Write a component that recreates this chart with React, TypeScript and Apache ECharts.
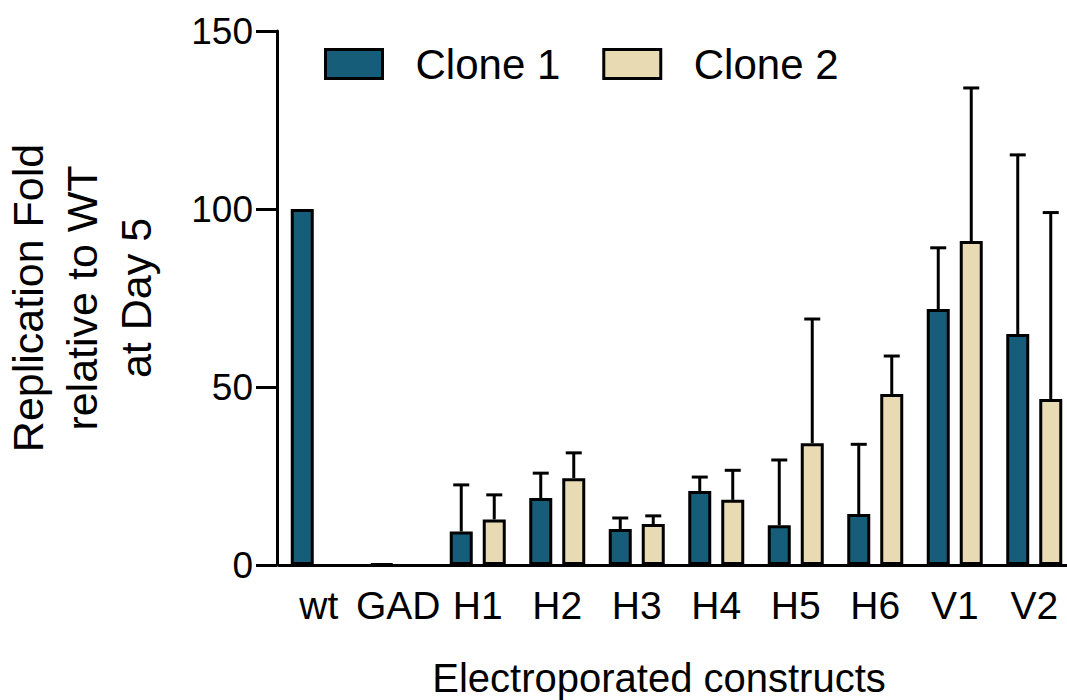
import React, { useEffect, useRef } from "react";
import * as echarts from "echarts";

const categories = ["wt", "GAD", "H1", "H2", "H3", "H4", "H5", "H6", "V1", "V2"];
const clone1Mean: (number | null)[] = [100, 0.3, 9.4, 18.8, 10.1, 20.8, 11.2, 14.3, 71.9, 64.9];
const clone1SD: (number | null)[] = [null, null, 13.1, 7.0, 3.1, 3.9, 18.3, 19.6, 17.2, 50.3];
const clone2Mean: (number | null)[] = [null, null, 12.8, 24.4, 11.5, 18.3, 34.2, 48.0, 91.0, 46.6];
const clone2SD: (number | null)[] = [null, null, 6.9, 7.1, 2.3, 8.3, 34.9, 10.7, 43.0, 52.4];
const yTicks = { min: 0, max: 150, interval: 50 };

const C1 = "#165d79";
const C2 = "#e8dab2";
const FONT = "Liberation Sans, Arial, Helvetica, sans-serif";
const BAR_W = 23;
const BAR_GAP_PX = 10;

function errSeries(name: string, means: (number | null)[], sds: (number | null)[], dir: number) {
  const data = means.map((m, i) => [i, m, sds[i]]);
  const offset = dir * (BAR_W + BAR_GAP_PX) / 2;
  return {
    type: "custom",
    name: name + " err",
    z: 1,
    silent: true,
    data,
    renderItem: (params: any, api: any) => {
      const m = api.value(1);
      const sd = api.value(2);
      if (sd == null || isNaN(sd) || m == null || isNaN(m)) return null;
      const base = api.coord([api.value(0), m]);
      const top = api.coord([api.value(0), m + sd]);
      const x = base[0] + offset;
      const st = { stroke: "#000", lineWidth: 3 };
      return {
        type: "group",
        children: [
          { type: "line", shape: { x1: x, y1: base[1], x2: x, y2: top[1] }, style: st },
          { type: "line", shape: { x1: x - 8, y1: top[1], x2: x + 8, y2: top[1] }, style: st },
        ],
      };
    },
  };
}

export default function App() {
  const ref = useRef<HTMLDivElement>(null);
  useEffect(() => {
    if (!ref.current) return;
    const chart = echarts.init(ref.current, undefined, { renderer: "svg" });
    chart.setOption({
      animation: false,
      backgroundColor: "#fff",
      textStyle: { fontFamily: FONT, color: "#000" },
      grid: { left: 279, top: 31, width: 795, height: 534, containLabel: false, outerBoundsMode: "none" },
      legend: {
        data: ["Clone 1", "Clone 2"],
        left: 319,
        top: 38,
        icon: "rect",
        itemWidth: 57,
        itemHeight: 29,
        itemGap: 42,
        itemStyle: { borderColor: "#000", borderWidth: 3 },
        textStyle: { fontSize: 42, color: "#000", fontFamily: FONT, padding: [0, 0, 0, 28] },
      },
      xAxis: {
        type: "category",
        data: categories,
        name: "Electroporated constructs",
        nameLocation: "middle",
        nameGap: 93,
        nameTextStyle: { fontSize: 40, color: "#000", fontFamily: FONT, padding: [0, 35, 0, 0] },
        axisLine: { lineStyle: { color: "#000", width: 3 } },
        axisTick: { alignWithLabel: true, length: 20, lineStyle: { color: "#000", width: 3 } },
        axisLabel: { fontSize: 39, color: "#000", fontFamily: FONT, margin: 21, interval: 0 },
      },
      yAxis: {
        type: "value",
        min: yTicks.min,
        max: yTicks.max,
        interval: yTicks.interval,
        offset: 2,
        name: "Replication Fold\nrelative to WT\nat Day 5",
        nameLocation: "middle",
        nameRotate: 90,
        nameGap: 114,
        nameTextStyle: { fontSize: 43, lineHeight: 54, color: "#000", fontFamily: FONT, align: "center" },
        splitLine: { show: false },
        axisLine: { show: true, lineStyle: { color: "#000", width: 3 } },
        axisTick: { show: true, length: 21, lineStyle: { color: "#000", width: 3 } },
        axisLabel: { fontSize: 37, color: "#000", fontFamily: FONT, margin: 24 },
      },
      series: [
        errSeries("Clone 1", clone1Mean, clone1SD, -1),
        errSeries("Clone 2", clone2Mean, clone2SD, 1),
        {
          name: "Clone 1",
          type: "bar",
          z: 2,
          data: clone1Mean,
          barWidth: BAR_W,
          barGap: (BAR_GAP_PX / BAR_W) * 100 + "%",
          itemStyle: { color: C1, borderColor: "#000", borderWidth: 3 },
        },
        {
          name: "Clone 2",
          type: "bar",
          z: 2,
          data: clone2Mean,
          barWidth: BAR_W,
          barGap: (BAR_GAP_PX / BAR_W) * 100 + "%",
          itemStyle: { color: C2, borderColor: "#000", borderWidth: 3 },
        },
      ],
    });
    return () => chart.dispose();
  }, []);
  return (
    <div
      ref={ref}
      style={{ position: "fixed", left: 0, top: 0, width: 1067, height: 700, background: "#fff" }}
    />
  );
}
